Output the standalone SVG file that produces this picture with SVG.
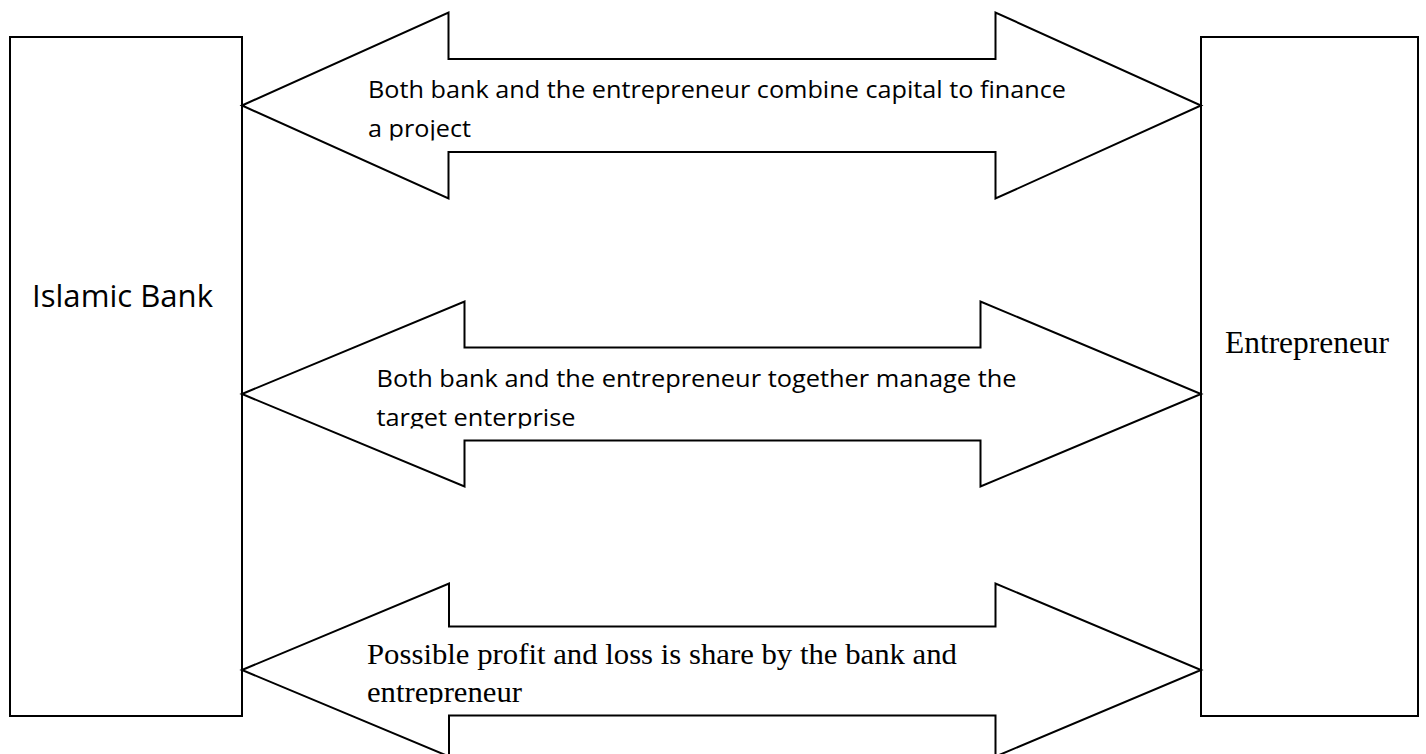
<svg xmlns="http://www.w3.org/2000/svg" width="1426" height="754" viewBox="0 0 1426 754">
  <style>
    .box { fill: #ffffff; stroke: #000000; stroke-width: 2; }
    .arrow { fill: #ffffff; stroke: #000000; stroke-width: 2; stroke-linejoin: miter; }
    .sans { font-family: "Open Sans", "Liberation Sans", sans-serif; fill: #000000; }
    .serif { font-family: "Liberation Serif", "Times New Roman", serif; fill: #000000; }
    .lbl { font-size: 24px; }
    .lblserif { font-size: 29px; }
  </style>
  <defs>
    <clipPath id="clip1"><rect x="300" y="60" width="800" height="80.5"/></clipPath>
    <clipPath id="clip2"><rect x="300" y="348" width="800" height="80.5"/></clipPath>
    <clipPath id="clip3"><rect x="300" y="627" width="800" height="77"/></clipPath>
  </defs>
  <rect width="1426" height="754" fill="#ffffff"/>

  <g id="node-islamic-bank">
    <rect class="box" x="10" y="37" width="232" height="679"/>
    <text class="sans" x="32" y="306.5" font-size="31" textLength="181" lengthAdjust="spacingAndGlyphs">Islamic Bank</text>
  </g>

  <g id="node-entrepreneur">
    <rect class="box" x="1201" y="37" width="217" height="679"/>
    <text class="serif" x="1225" y="352.5" font-size="32" textLength="164" lengthAdjust="spacingAndGlyphs">Entrepreneur</text>
  </g>

  <g id="connectors">
    <g id="arrow-capital">
      <polygon class="arrow" points="242,105.5 448.5,12.5 448.5,59 995.5,59 995.5,12.5 1201,105.5 995.5,198.5 995.5,152 448.5,152 448.5,198.5"/>
      <g clip-path="url(#clip1)">
        <text class="sans lbl" x="368" y="97.5" textLength="698" lengthAdjust="spacingAndGlyphs">Both bank and the entrepreneur combine capital to finance</text>
        <text class="sans lbl" x="368" y="137" textLength="103" lengthAdjust="spacingAndGlyphs">a project</text>
      </g>
    </g>
    <g id="arrow-manage">
      <polygon class="arrow" points="242,394 464.5,301.5 464.5,347.5 980.5,347.5 980.5,301.5 1201,394 980.5,486.5 980.5,440.5 464.5,440.5 464.5,486.5"/>
      <g clip-path="url(#clip2)">
        <text class="sans lbl" x="376.5" y="386.5" textLength="640" lengthAdjust="spacingAndGlyphs">Both bank and the entrepreneur together manage the</text>
        <text class="sans lbl" x="376.5" y="425.5" textLength="199" lengthAdjust="spacingAndGlyphs">target enterprise</text>
      </g>
    </g>
    <g id="arrow-profit">
      <polygon class="arrow" points="242,670 449,583.5 449,626.5 995.5,626.5 995.5,583.5 1201,670 995.5,756.5 995.5,715.5 449,715.5 449,756.5"/>
      <g clip-path="url(#clip3)">
        <text class="serif lblserif" x="367" y="664" textLength="590" lengthAdjust="spacingAndGlyphs">Possible profit and loss is share by the bank and</text>
        <text class="serif lblserif" x="367" y="701.5" textLength="155" lengthAdjust="spacingAndGlyphs">entrepreneur</text>
      </g>
    </g>
  </g>
</svg>
